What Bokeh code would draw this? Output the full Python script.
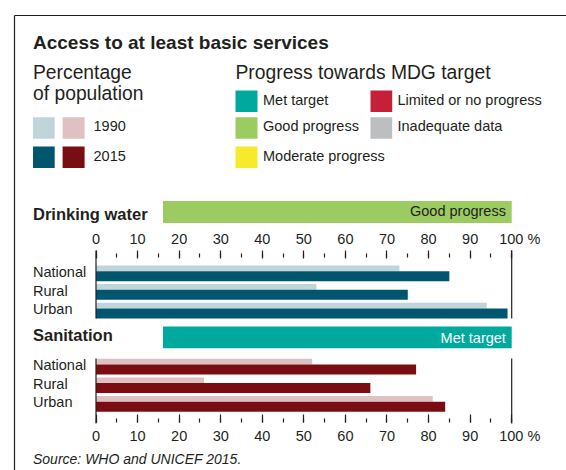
from bokeh.plotting import figure
from bokeh.models import Range1d, LinearAxis, SingleIntervalTicker
from bokeh.core.properties import value
from bokeh.embed import file_html
from bokeh.resources import INLINE

# ---------------- data ----------------
categories = ["National", "Rural", "Urban"]
water_1990 = [73, 53, 94]
water_2015 = [85, 75, 99]
sanitation_1990 = [52, 26, 81]
sanitation_2015 = [77, 66, 84]
water_status = "Good progress"
sanitation_status = "Met target"
year_labels = ["1990", "2015"]
progress_col1 = ["Met target", "Good progress", "Moderate progress"]
progress_col2 = ["Limited or no progress", "Inadequate data"]

# ---------------- styles ----------------
FONT = "Liberation Sans"
INK = "#231f20"
WATER_1990_C = "#bfd4db"
WATER_2015_C = "#00566e"
SAN_1990_C = "#dfc1c3"
SAN_2015_C = "#7a0d12"
MET_C = "#00a99d"
GOOD_C = "#9ccb62"
MOD_C = "#f6ea2b"
LIMITED_C = "#c42037"
INADEQ_C = "#bcbec0"
progress_col1_colors = [MET_C, GOOD_C, MOD_C]
progress_col2_colors = [LIMITED_C, INADEQ_C]

W, H = 566, 470
X0PX, X100PX = 95.5, 511.2           # pixel positions of 0 % and 100 %
SC = (X100PX - X0PX) / 100.0

p = figure(width=W, height=H, output_backend="svg", toolbar_location=None,
           x_range=Range1d((0 - X0PX) / SC, (W - X0PX) / SC),
           y_range=Range1d(H, 0),
           x_axis_location=None, y_axis_location=None,
           min_border=0, min_border_left=0, min_border_right=0,
           min_border_top=0, min_border_bottom=0)
p.extra_x_ranges = {"px": Range1d(0, W)}
p.outline_line_color = None
p.background_fill_color = "white"
p.border_fill_color = "white"
p.grid.visible = False


def txt(x, y, s, size, style="normal", color=INK, align="left"):
    # y is the wanted alphabetic baseline; draw with a middle baseline
    p.text(x=[x], y=[y - 0.3465 * size], text=[s], x_range_name="px",
           text_font=value(FONT), text_font_size=value(f"{size}px"),
           text_font_style=style, text_color=color,
           text_align=align, text_baseline="middle")


# frame
p.segment(x0=[14, 14], y0=[15, 15], x1=[W, 14], y1=[15, H],
          x_range_name="px", line_color=INK, line_width=1.2)

# titles
txt(32.5, 49, "Access to at least basic services", 19, "bold")
txt(32.5, 79, "Percentage", 19.3)
txt(32.5, 100, "of population", 19.3)
txt(235, 79, "Progress towards MDG target", 19.3)

# year legend
row_tops = [116.7, 146.0]
p.quad(left=[32.5, 32.5], right=[54.2, 54.2], top=row_tops, bottom=[t + 21.6 for t in row_tops],
       fill_color=[WATER_1990_C, WATER_2015_C], line_color=None, x_range_name="px")
p.quad(left=[62.1, 62.1], right=[84.1, 84.1], top=row_tops, bottom=[t + 21.6 for t in row_tops],
       fill_color=[SAN_1990_C, SAN_2015_C], line_color=None, x_range_name="px")
for t, lab in zip(row_tops, year_labels):
    txt(93, t + 14.2, lab, 14.5)

# progress legend
prog_tops = [90.0, 116.7, 146.0]
for t, lab, c in zip(prog_tops, progress_col1, progress_col1_colors):
    p.quad(left=[235], right=[257], top=[t], bottom=[t + 21.6], fill_color=c,
           line_color=None, x_range_name="px")
    txt(262.5, t + 14.3, lab, 14.5)
for t, lab, c in zip(prog_tops[:2], progress_col2, progress_col2_colors):
    p.quad(left=[370], right=[391.7], top=[t], bottom=[t + 21.6], fill_color=c,
           line_color=None, x_range_name="px")
    txt(397, t + 14.3, lab, 14.5)

# section headers
txt(32.5, 219.3, "Drinking water", 16.5, "bold")
p.quad(left=[162.5], right=[X100PX], top=[200.5], bottom=[222.5], fill_color=GOOD_C,
       line_color=None, x_range_name="px")
txt(505.4, 216, water_status, 14.5, align="right")

txt(32.5, 340.7, "Sanitation", 16.5, "bold")
p.quad(left=[162.5], right=[X100PX], top=[326], bottom=[347.7], fill_color=MET_C,
       line_color=None, x_range_name="px")
txt(505.4, 343, sanitation_status, 14.5, color="white", align="right")

# bars
ROW = 18.6
H90, H15 = 5.7, 10.0
w_tops = [265 + i * ROW for i in range(len(categories))]
s_tops = [358.3 + i * ROW for i in range(len(categories))]

p.hbar(y=[t + H90 / 2 for t in w_tops], height=H90, left=0, right=water_1990,
       fill_color=WATER_1990_C, line_color=None)
p.hbar(y=[t + H90 + H15 / 2 for t in w_tops], height=H15, left=0, right=water_2015,
       fill_color=WATER_2015_C, line_color=None)
p.hbar(y=[t + H90 / 2 for t in s_tops], height=H90, left=0, right=sanitation_1990,
       fill_color=SAN_1990_C, line_color=None)
p.hbar(y=[t + H90 + H15 / 2 for t in s_tops], height=H15, left=0, right=sanitation_2015,
       fill_color=SAN_2015_C, line_color=None)

for t, lab in zip(w_tops, categories):
    txt(32.5, t + 11.5, lab, 14.5)
for t, lab in zip(s_tops, categories):
    txt(32.5, t + 11.5, lab, 14.5)

# 0 % and 100 % lines
p.segment(x0=[0, 100], x1=[0, 100], y0=[250, 250], y1=[318, 318], line_color=INK, line_width=1.2)
p.segment(x0=[0, 100], x1=[0, 100], y0=[358, 358], y1=[423, 423], line_color=INK, line_width=1.2)

# axes
def make_axis(loc, tin, mtin, mtout, standoff):
    ax = LinearAxis(fixed_location=loc, bounds=(0, 100),
                    ticker=SingleIntervalTicker(interval=10, num_minor_ticks=2))
    ax.axis_line_color = None
    ax.major_tick_in = tin
    ax.major_tick_out = 0
    ax.minor_tick_in = mtin
    ax.minor_tick_out = mtout
    ax.major_tick_line_color = INK
    ax.minor_tick_line_color = INK
    ax.major_tick_line_width = 1.2
    ax.minor_tick_line_width = 1.2
    ax.major_label_text_font = FONT
    ax.major_label_text_font_size = "14.5px"
    ax.major_label_text_color = INK
    ax.major_label_standoff = standoff
    ax.major_label_overrides = {100: "\u2007\u2007100 %"}
    return ax

p.add_layout(make_axis(250, 8, 7, -3, 4), "above")
p.add_layout(make_axis(422, 8, 4, 0, 5), "below")

txt(32.5, 463.3, "Source: WHO and UNICEF 2015.", 14, "italic")

open("out.html", "w").write(file_html(p, INLINE))
